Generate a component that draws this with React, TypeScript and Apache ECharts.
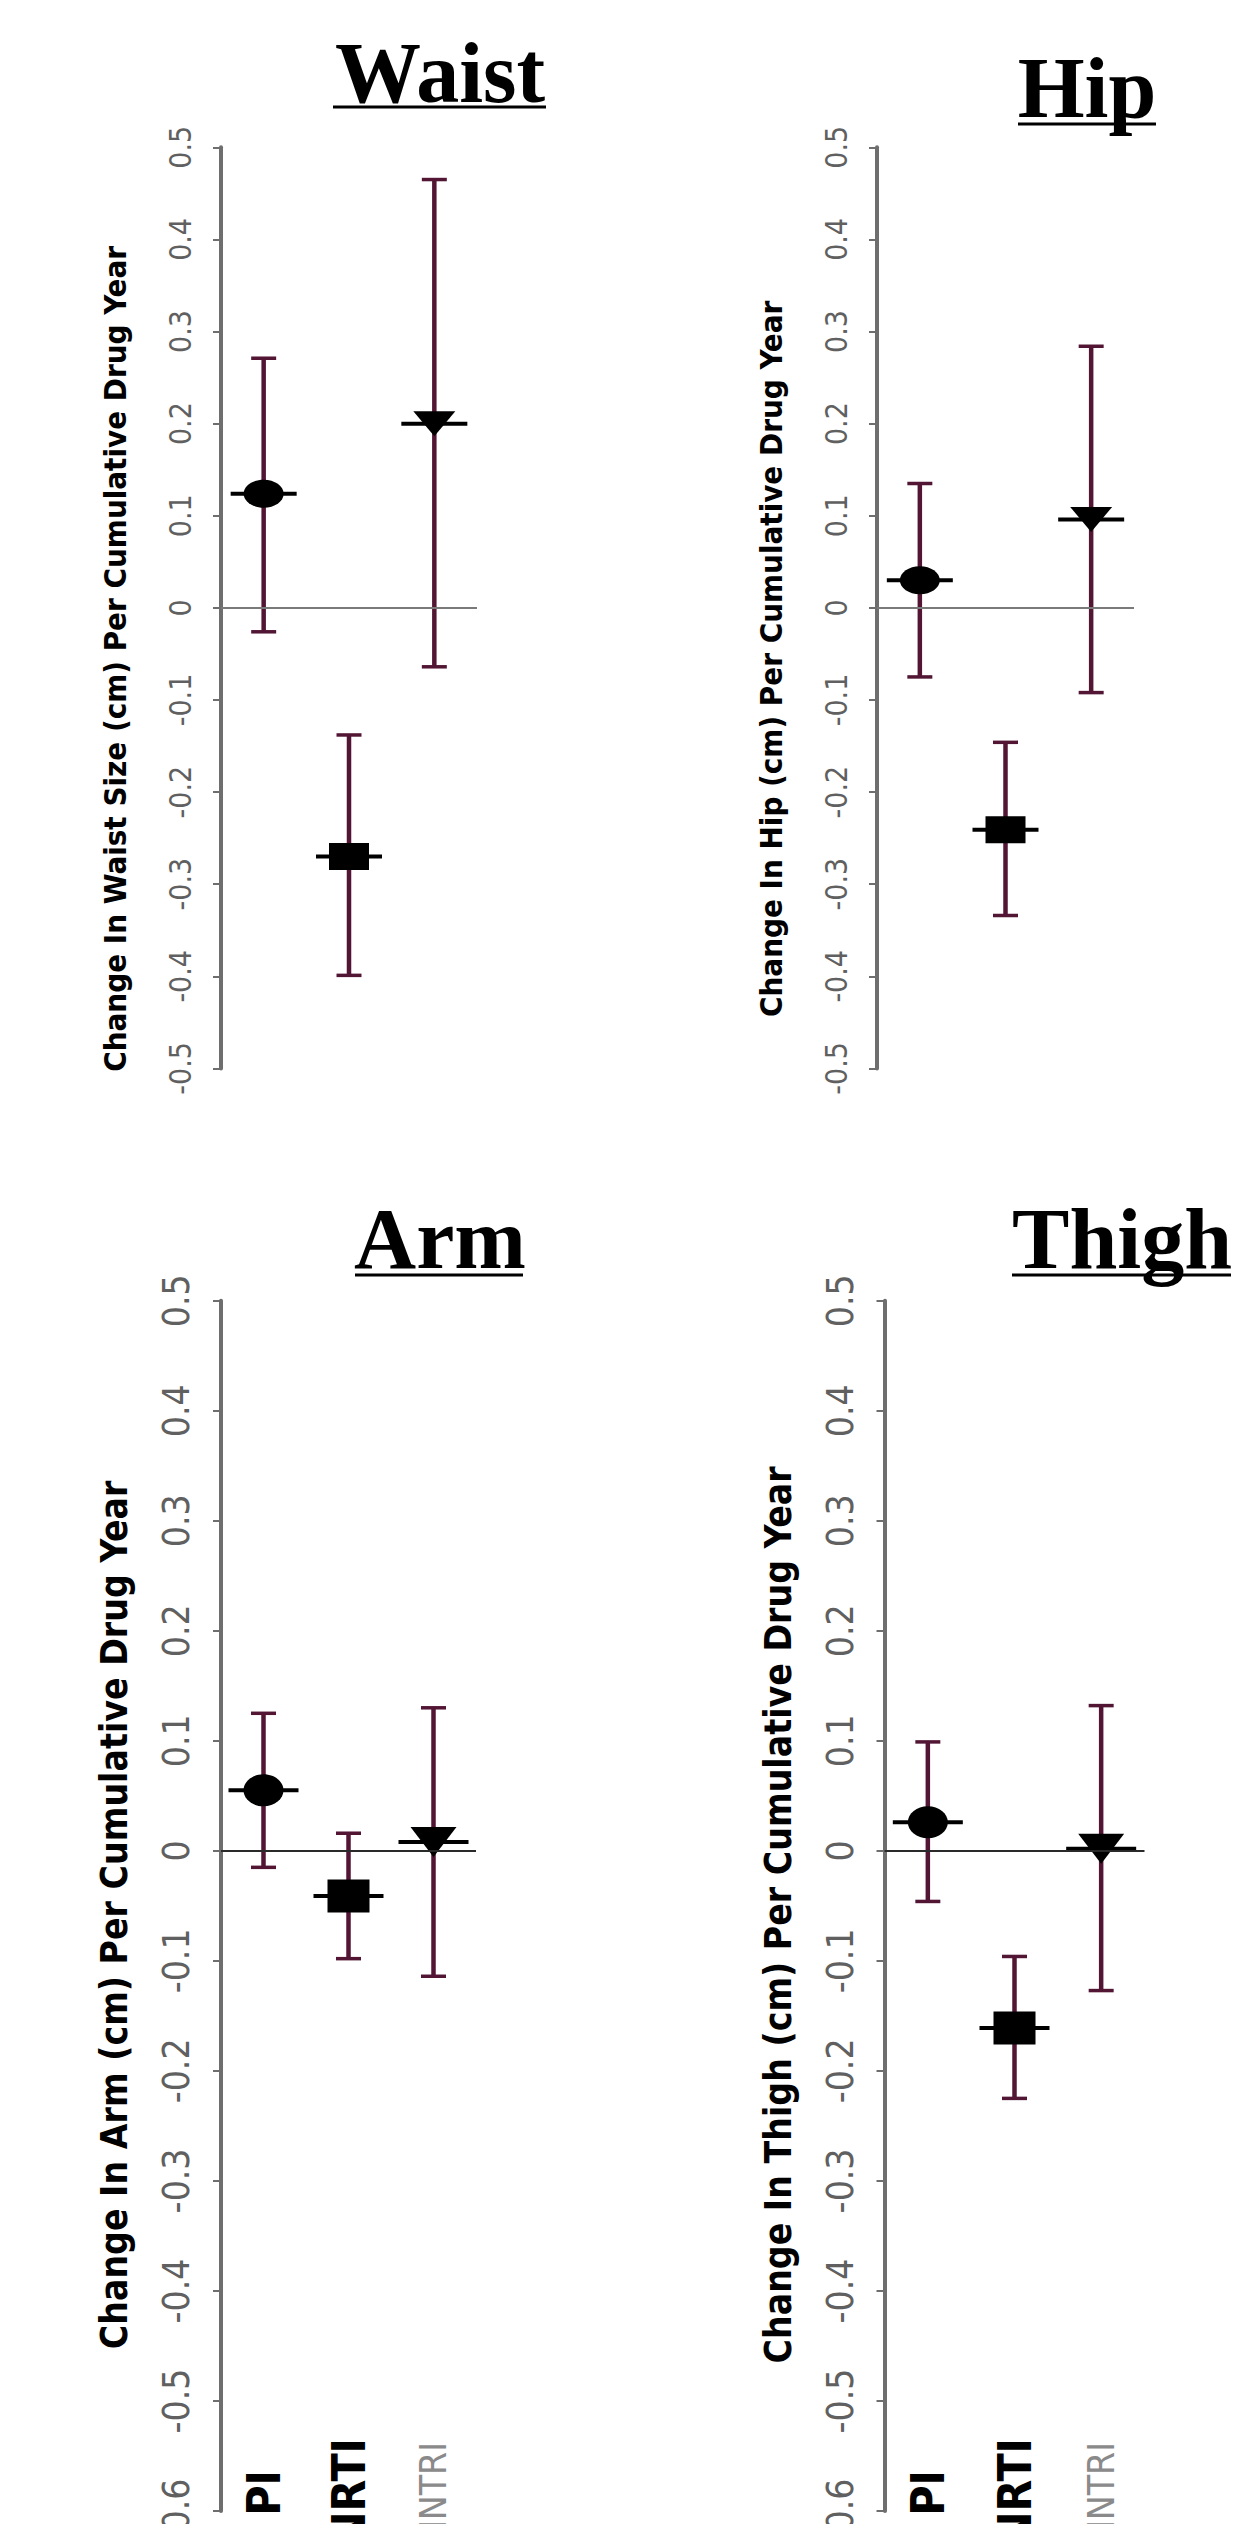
import React, { useEffect, useRef } from 'react';
import * as echarts from 'echarts';

// ---------- data ----------
const categories = ['PI', 'NRTI', 'NNTRI'];
const panelTitles = ['Waist', 'Hip', 'Arm', 'Thigh'];
const axisNames = [
  'Change In Waist Size (cm) Per Cumulative Drug Year',
  'Change In Hip (cm) Per Cumulative Drug Year',
  'Change In Arm (cm) Per Cumulative Drug Year',
  'Change In Thigh (cm) Per Cumulative Drug Year',
];

const waistMean = [0.124, -0.27, 0.2];
const waistLow = [-0.026, -0.399, -0.064];
const waistHigh = [0.271, -0.138, 0.465];

const hipMean = [0.03, -0.241, 0.096];
const hipLow = [-0.075, -0.334, -0.092];
const hipHigh = [0.135, -0.146, 0.284];

const armMean = [0.055, -0.041, 0.008];
const armLow = [-0.015, -0.098, -0.114];
const armHigh = [0.125, 0.016, 0.13];

const thighMean = [0.026, -0.161, 0.002];
const thighLow = [-0.046, -0.225, -0.127];
const thighHigh = [0.099, -0.096, 0.132];

const yMax = 0.5;
const yMinTop = -0.5;
const yMinBottom = -0.6;
const yStep = 0.1;

// ---------- styles / layout ----------
const NARROW = '"DejaVu Sans Condensed", "Liberation Sans Narrow", "Arial Narrow", sans-serif';
const SERIF = '"Liberation Serif", "Times New Roman", serif';
const ERR = '#521634';

const grids = [
  { left: 221, top: 147.3, width: 256, height: 921.1 },
  { left: 877, top: 147.3, width: 257, height: 921.1 },
  { left: 221, top: 1300.7, width: 255, height: 1210.3 },
  { left: 884.5, top: 1300.7, width: 260, height: 1210.3 },
];

const titlePos = [
  { x: 440, y: 116, u: [333, 546, 107] },
  { x: 1087, y: 131, u: [1018, 1156, 124] },
  { x: 440, y: 1282, u: [355, 523, 1275] },
  { x: 1122, y: 1282, u: [1012, 1231, 1275] },
];

type Sz = { rx: number; ry: number; sw: number; sh: number; tw: number; th: number; hw: number; cap: number };
const topSz: Sz = { rx: 20, ry: 14, sw: 40, sh: 27, tw: 42, th: 25, hw: 33, cap: 12.5 };
const botSz: Sz = { rx: 20, ry: 16, sw: 42, sh: 33, tw: 46, th: 30, hw: 35, cap: 12.5 };

function makeRender(sz: Sz) {
  return (params: any, api: any) => {
    const xi = api.value(0);
    const m = api.value(1);
    const lo = api.value(2);
    const hi = api.value(3);
    const pm = api.coord([xi, m]);
    const pl = api.coord([xi, lo]);
    const ph = api.coord([xi, hi]);
    const cx = pm[0];
    const children: any[] = [
      { type: 'line', shape: { x1: cx, y1: ph[1], x2: cx, y2: pl[1] }, style: { stroke: ERR, lineWidth: 4.5 } },
      { type: 'line', shape: { x1: cx - sz.cap, y1: ph[1], x2: cx + sz.cap, y2: ph[1] }, style: { stroke: ERR, lineWidth: 3.5 } },
      { type: 'line', shape: { x1: cx - sz.cap, y1: pl[1], x2: cx + sz.cap, y2: pl[1] }, style: { stroke: ERR, lineWidth: 3.5 } },
      { type: 'line', shape: { x1: cx - sz.hw, y1: pm[1], x2: cx + sz.hw, y2: pm[1] }, style: { stroke: '#000', lineWidth: 4 } },
    ];
    if (xi === 0) {
      children.push({ type: 'ellipse', shape: { cx, cy: pm[1], rx: sz.rx, ry: sz.ry }, style: { fill: '#000' } });
    } else if (xi === 1) {
      children.push({ type: 'rect', shape: { x: cx - sz.sw / 2, y: pm[1] - sz.sh / 2, width: sz.sw, height: sz.sh }, style: { fill: '#000' } });
    } else {
      children.push({
        type: 'polygon',
        shape: { points: [[cx - sz.tw / 2, pm[1] - sz.th / 2], [cx + sz.tw / 2, pm[1] - sz.th / 2], [cx, pm[1] + sz.th / 2]] },
        style: { fill: '#000' },
      });
    }
    return { type: 'group', children };
  };
}

const panels = [
  { mean: waistMean, low: waistLow, high: waistHigh },
  { mean: hipMean, low: hipLow, high: hipHigh },
  { mean: armMean, low: armLow, high: armHigh },
  { mean: thighMean, low: thighLow, high: thighHigh },
];

function buildOption() {
  const grid: any[] = grids.map((g) => ({ ...g, containLabel: false, outerBoundsMode: 'none' }));
  const xAxis: any[] = [];
  const yAxis: any[] = [];
  const series: any[] = [];
  const graphic: any[] = [];

  panels.forEach((p, i) => {
    const bottom = i >= 2;
    xAxis.push({
      type: 'category',
      gridIndex: i,
      data: categories.map((c, j) => ({
        value: c,
        textStyle:
          j === 0
            ? { padding: [0, 32, 0, 0] }
            : j === 2
            ? { color: '#8a8a8a', fontWeight: 'normal', fontSize: 37, padding: [0, 4, 0, 0] }
            : {},
      })),
      boundaryGap: true,
      position: 'bottom',
      axisLine: { show: false, onZero: false },
      axisTick: { show: false },
      splitLine: { show: false },
      axisLabel: {
        show: bottom,
        interval: 0,
        rotate: 90,
        margin: -73,
        color: '#000',
        fontSize: 46,
        fontWeight: 'bold',
        fontFamily: NARROW,
      },
    });
    yAxis.push({
      type: 'value',
      gridIndex: i,
      min: bottom ? yMinBottom : yMinTop,
      max: yMax,
      interval: yStep,
      axisLine: { show: true, onZero: false, lineStyle: { color: '#6e6e6e', width: 4 } },
      axisTick: { show: true, length: 8, lineStyle: { color: '#6e6e6e', width: 2 } },
      splitLine: { show: false },
      axisLabel: {
        rotate: 90,
        margin: 26,
        color: '#606060',
        fontSize: bottom ? 37 : 30,
        fontFamily: NARROW,
      },
      name: axisNames[i],
      nameLocation: 'middle',
      nameRotate: 90,
      nameGap: bottom ? 88 : 91,
      nameTextStyle: {
        color: '#000',
        fontWeight: 'bold',
        fontSize: bottom ? 37 : 31,
        fontFamily: NARROW,
        padding: bottom ? [0, 18, 0, 0] : [0, 102, 0, 0],
      },
    });
    series.push({
      type: 'line',
      xAxisIndex: i,
      yAxisIndex: i,
      data: [],
      z: 1,
      markLine: {
        silent: true,
        symbol: 'none',
        label: { show: false },
        lineStyle: { color: bottom ? '#2a2a2a' : '#7a7a7a', width: 2, type: 'solid' },
        data: [{ yAxis: 0 }],
      },
    });
    series.push({
      type: 'custom',
      name: panelTitles[i],
      xAxisIndex: i,
      yAxisIndex: i,
      z: 3,
      renderItem: makeRender(bottom ? botSz : topSz),
      encode: { x: 0, y: [1, 2, 3] },
      data: categories.map((_, j) => [j, p.mean[j], p.low[j], p.high[j]]),
    });
    const t = titlePos[i];
    graphic.push({
      type: 'text',
      x: t.x,
      y: t.y,
      style: {
        text: panelTitles[i],
        fill: '#000',
        font: `bold 86px ${SERIF}`,
        align: 'center',
        verticalAlign: 'bottom',
      },
    });
    graphic.push({
      type: 'line',
      shape: { x1: t.u[0], y1: t.u[2], x2: t.u[1], y2: t.u[2] },
      style: { stroke: '#000', lineWidth: 3 },
    });
  });

  return {
    animation: false,
    backgroundColor: '#ffffff',
    grid,
    xAxis,
    yAxis,
    series,
    graphic,
  };
}

export default function App() {
  const ref = useRef<HTMLDivElement>(null);
  useEffect(() => {
    if (!ref.current) return;
    const chart = echarts.init(ref.current, undefined, { renderer: 'svg' });
    chart.setOption(buildOption() as any);
    return () => chart.dispose();
  }, []);
  return (
    <div
      ref={ref}
      style={{ position: 'absolute', left: 0, top: 0, width: 1247, height: 2524, background: '#fff' }}
    />
  );
}
